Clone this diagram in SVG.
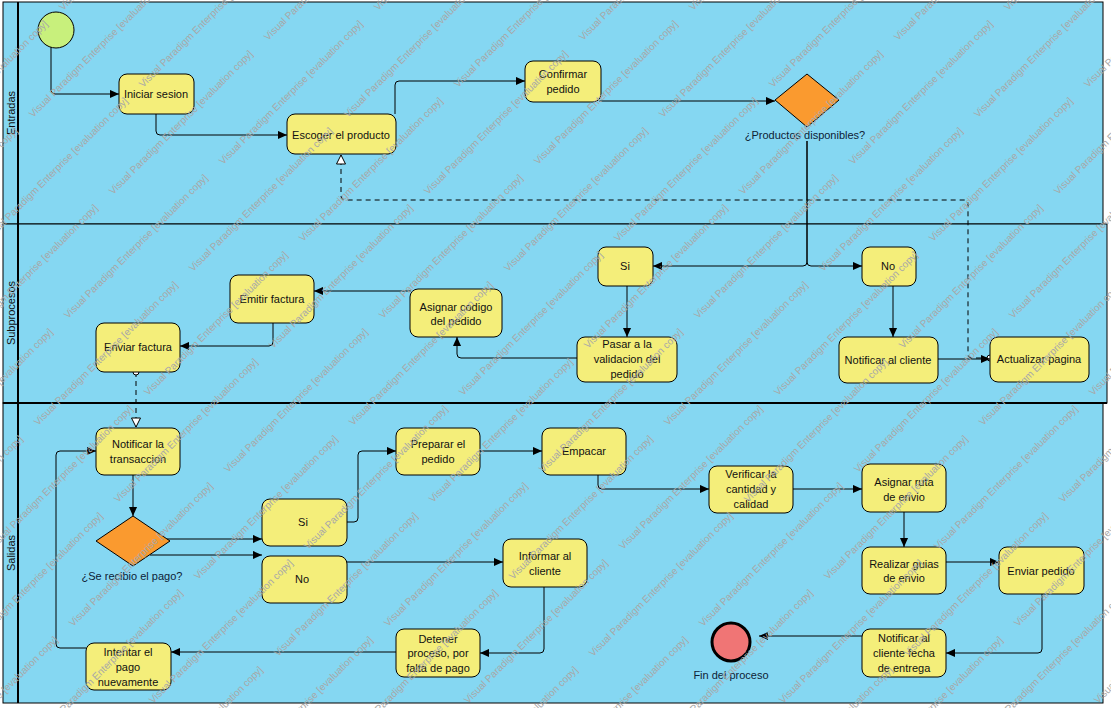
<svg xmlns="http://www.w3.org/2000/svg" xmlns:xlink="http://www.w3.org/1999/xlink" width="1111" height="708" viewBox="0 0 1111 708">
  <style>
    .lane { fill: #85d7f2; stroke: #000; stroke-width: 1; }
    .sep { fill: none; stroke: #000; stroke-width: 2; }
    .task { fill: #f4ee7a; stroke: #000; stroke-width: 1; }
    .gw { fill: #fa9a2f; stroke: #000; stroke-width: 1; }
    .t { font-family: "Liberation Sans", Arial, sans-serif; font-size: 11px; fill: #111; text-anchor: middle; }
    .lbl { font-family: "Liberation Sans", Arial, sans-serif; font-size: 11px; fill: #0d2236; text-anchor: middle; }
    .hdr { font-family: "Liberation Sans", Arial, sans-serif; font-size: 11px; fill: #111; text-anchor: middle; }
    .edge { fill: none; stroke: #000; stroke-width: 1; marker-end: url(#arr); }
    .msg { fill: none; stroke: #000; stroke-width: 1; stroke-dasharray: 5 4; marker-start: url(#dot); marker-end: url(#open); }
    .wm { font-family: "Liberation Sans", Arial, sans-serif; font-size: 10px; fill: #a8a8a8; }
  </style>
  <defs>
    <marker id="arr" viewBox="0 0 10 10" refX="10" refY="5" markerWidth="10" markerHeight="9" markerUnits="userSpaceOnUse" orient="auto">
      <path d="M0,0.5 L10,5 L0,9.5 z" fill="#000"/>
    </marker>
    <marker id="open" viewBox="-1 -1 11 11" refX="9" refY="4.5" markerWidth="11" markerHeight="11" markerUnits="userSpaceOnUse" orient="auto">
      <path d="M0,0 L9,4.5 L0,9 z" fill="#fff" stroke="#000" stroke-width="1"/>
    </marker>
    <marker id="dot" viewBox="-4 -4 8 8" refX="0" refY="0" markerWidth="8" markerHeight="8" markerUnits="userSpaceOnUse" orient="auto">
      <circle cx="0" cy="0" r="3" fill="#fff" stroke="#000" stroke-width="1"/>
    </marker>
    <text id="wm" class="wm" transform="rotate(-45)">Visual Paradigm Enterprise [evaluation copy]</text>
    <g id="wm-row">
      <use xlink:href="#wm" x="-1227" y="118"/>
      <use xlink:href="#wm" x="-912" y="118"/>
      <use xlink:href="#wm" x="-597" y="118"/>
      <use xlink:href="#wm" x="-282" y="118"/>
      <use xlink:href="#wm" x="33" y="118"/>
      <use xlink:href="#wm" x="348" y="118"/>
      <use xlink:href="#wm" x="663" y="118"/>
      <use xlink:href="#wm" x="978" y="118"/>
      <use xlink:href="#wm" x="1293" y="118"/>
      <use xlink:href="#wm" x="-1117" y="88"/>
      <use xlink:href="#wm" x="-802" y="88"/>
      <use xlink:href="#wm" x="-487" y="88"/>
      <use xlink:href="#wm" x="-172" y="88"/>
      <use xlink:href="#wm" x="143" y="88"/>
      <use xlink:href="#wm" x="458" y="88"/>
      <use xlink:href="#wm" x="773" y="88"/>
      <use xlink:href="#wm" x="1088" y="88"/>
      <use xlink:href="#wm" x="1403" y="88"/>
    </g>
  </defs>

  <rect x="0" y="0" width="1111" height="708" fill="#fff"/>

  <!-- pool and lanes -->
  <g id="lanes">
    <rect class="lane" x="3" y="2" width="1100" height="222"/>
    <rect class="lane" x="3" y="224" width="1104" height="179"/>
    <rect class="lane" x="3" y="403" width="1100" height="300"/>
    <line class="sep" x1="3" y1="403" x2="1107" y2="403"/>
    <line class="sep" x1="18" y1="2" x2="18" y2="703"/>
    <text class="hdr" transform="translate(15,113) rotate(-90)">Entradas</text>
    <text class="hdr" transform="translate(15,313) rotate(-90)">Subprocesos</text>
    <text class="hdr" transform="translate(15,553) rotate(-90)">Salidas</text>
  </g>

  <!-- connectors -->
  <g id="connectors">
    <path class="edge" d="M51,47 V90 Q51,94 55,94 H119"/>
    <path class="edge" d="M156,114 V131 Q156,135 160,135 H287"/>
    <path class="edge" d="M395,114 V85 Q395,81 399,81 H525"/>
    <path class="edge" d="M599,101 H775"/>
    <path class="edge" d="M807,141 V262 Q807,266 803,266 H653"/>
    <path class="edge" d="M807,141 V262 Q807,266 811,266 H862"/>
    <path class="msg" d="M990,358 H972 Q968,358 968,354 V204 Q968,200 964,200 H345 Q341,200 341,196 V155"/>

    <path class="edge" d="M627,286 V337"/>
    <path class="edge" d="M577,358 H461 Q457,358 457,354 V337"/>
    <path class="edge" d="M411,291 H314"/>
    <path class="edge" d="M273,323 V342 Q273,346 269,346 H180"/>
    <path class="msg" d="M136,372 V427"/>
    <path class="edge" d="M893,286 V337"/>
    <path class="edge" d="M938,359 H990"/>

    <path class="edge" d="M133,475 V516"/>
    <path class="edge" d="M167,539 H262"/>
    <path class="edge" d="M150,555 H262"/>
    <path class="edge" d="M347,522 H354 Q358,522 358,518 V455 Q358,451 362,451 H396"/>
    <path class="edge" d="M480,451 H542"/>
    <path class="edge" d="M598,475 V485 Q598,489 602,489 H709"/>
    <path class="edge" d="M793,489 H862"/>
    <path class="edge" d="M904,512 V547"/>
    <path class="edge" d="M946,562 H999"/>
    <path class="edge" d="M1042,594 V649 Q1042,653 1038,653 H946"/>
    <path class="edge" d="M862,636 H759"/>
    <path class="edge" d="M347,562 H503"/>
    <path class="edge" d="M544,587 V649 Q544,653 540,653 H480"/>
    <path class="edge" d="M396,652 H171"/>
    <path class="edge" d="M86,648 H60 Q56,648 56,644 V455 Q56,451 60,451 H96"/>
  </g>

  <!-- Entradas -->
  <g id="inicio">
    <circle cx="56" cy="30" r="18" fill="#c8f07c" stroke="#000" stroke-width="1"/>
  </g>
  <g id="iniciar-sesion">
    <rect class="task" x="119" y="74" width="75" height="40" rx="8"/>
    <text class="t" x="156" y="98">Iniciar sesion</text>
  </g>
  <g id="escoger-producto">
    <rect class="task" x="287" y="114" width="109" height="40" rx="8"/>
    <text class="t" x="341" y="139">Escoger el producto</text>
  </g>
  <g id="confirmar-pedido">
    <rect class="task" x="525" y="61" width="76" height="41" rx="8"/>
    <text class="t" x="563" y="78">Confirmar</text>
    <text class="t" x="563" y="93">pedido</text>
  </g>
  <g id="productos-disponibles">
    <path class="gw" d="M775,100 L807,74 L839,100 L807,127 z"/>
    <text class="lbl" x="805" y="139">¿Productos disponibles?</text>
  </g>

  <!-- Subprocesos -->
  <g id="emitir-factura">
    <rect class="task" x="230" y="275" width="84" height="48" rx="8"/>
    <text class="t" x="272" y="303">Emitir factura</text>
  </g>
  <g id="enviar-factura">
    <rect class="task" x="96" y="323" width="84" height="49" rx="8"/>
    <text class="t" x="138" y="351">Enviar factura</text>
  </g>
  <g id="asignar-codigo">
    <rect class="task" x="410" y="289" width="92" height="48" rx="8"/>
    <text class="t" x="456" y="311">Asignar codigo</text>
    <text class="t" x="456" y="325">del pedido</text>
  </g>
  <g id="si-disponible">
    <rect class="task" x="598" y="247" width="55" height="39" rx="8"/>
    <text class="t" x="625" y="270">Si</text>
  </g>
  <g id="pasar-validacion">
    <rect class="task" x="577" y="337" width="100" height="45" rx="8"/>
    <text class="t" x="627" y="348">Pasar a la</text>
    <text class="t" x="627" y="363">validacion del</text>
    <text class="t" x="627" y="378">pedido</text>
  </g>
  <g id="no-disponible">
    <rect class="task" x="862" y="247" width="54" height="39" rx="8"/>
    <text class="t" x="888" y="270">No</text>
  </g>
  <g id="notificar-cliente">
    <rect class="task" x="839" y="337" width="99" height="46" rx="8"/>
    <text class="t" x="888" y="364">Notificar al cliente</text>
  </g>
  <g id="actualizar-pagina">
    <rect class="task" x="990" y="337" width="99" height="45" rx="8"/>
    <text class="t" x="1039" y="363">Actualizar pagina</text>
  </g>

  <!-- Salidas -->
  <g id="notificar-transaccion">
    <rect class="task" x="96" y="428" width="84" height="47" rx="8"/>
    <text class="t" x="138" y="448">Notificar la</text>
    <text class="t" x="138" y="463">transaccion</text>
  </g>
  <g id="se-recibio-pago">
    <path class="gw" d="M96,541 L133,516 L170,541 L133,566 z"/>
    <text class="lbl" x="132" y="580">¿Se recibio el pago?</text>
  </g>
  <g id="si-pago">
    <rect class="task" x="262" y="499" width="85" height="47" rx="8"/>
    <text class="t" x="303" y="526">Si</text>
  </g>
  <g id="no-pago">
    <rect class="task" x="262" y="556" width="85" height="47" rx="8"/>
    <text class="t" x="302" y="583">No</text>
  </g>
  <g id="intentar-pago">
    <rect class="task" x="86" y="643" width="85" height="47" rx="8"/>
    <text class="t" x="128" y="656">Intentar el</text>
    <text class="t" x="128" y="671">pago</text>
    <text class="t" x="128" y="686">nuevamente</text>
  </g>
  <g id="preparar-pedido">
    <rect class="task" x="396" y="428" width="84" height="47" rx="8"/>
    <text class="t" x="438" y="448">Preparar el</text>
    <text class="t" x="438" y="463">pedido</text>
  </g>
  <g id="empacar">
    <rect class="task" x="542" y="428" width="84" height="47" rx="8"/>
    <text class="t" x="584" y="455">Empacar</text>
  </g>
  <g id="verificar-cantidad">
    <rect class="task" x="709" y="466" width="84" height="47" rx="8"/>
    <text class="t" x="751" y="478">Verificar la</text>
    <text class="t" x="751" y="493">cantidad y</text>
    <text class="t" x="751" y="508">calidad</text>
  </g>
  <g id="informar-cliente">
    <rect class="task" x="503" y="539" width="84" height="48" rx="8"/>
    <text class="t" x="545" y="560">Informar al</text>
    <text class="t" x="545" y="575">cliente</text>
  </g>
  <g id="detener-proceso">
    <rect class="task" x="396" y="629" width="84" height="48" rx="8"/>
    <text class="t" x="438" y="643">Detener</text>
    <text class="t" x="438" y="657">proceso, por</text>
    <text class="t" x="438" y="672">falta de pago</text>
  </g>
  <g id="fin-proceso">
    <circle cx="731" cy="642" r="19" fill="#f07575" stroke="#000" stroke-width="3"/>
    <text class="lbl" x="731" y="679">Fin del proceso</text>
  </g>
  <g id="asignar-ruta">
    <rect class="task" x="862" y="464" width="84" height="48" rx="8"/>
    <text class="t" x="904" y="486">Asignar ruta</text>
    <text class="t" x="904" y="501">de envio</text>
  </g>
  <g id="realizar-guias">
    <rect class="task" x="862" y="547" width="84" height="47" rx="8"/>
    <text class="t" x="904" y="568">Realizar guias</text>
    <text class="t" x="904" y="582">de envio</text>
  </g>
  <g id="enviar-pedido">
    <rect class="task" x="999" y="547" width="85" height="47" rx="8"/>
    <text class="t" x="1041" y="575">Enviar pedido</text>
  </g>
  <g id="notificar-entrega">
    <rect class="task" x="862" y="629" width="84" height="48" rx="8"/>
    <text class="t" x="904" y="642">Notificar al</text>
    <text class="t" x="904" y="657">cliente fecha</text>
    <text class="t" x="904" y="672">de entrega</text>
  </g>

  <!-- evaluation watermark, tiled over the whole sheet -->
  <g id="watermark">
    <use xlink:href="#wm-row" transform="translate(-80,-77)"/>
    <use xlink:href="#wm-row"/>
    <use xlink:href="#wm-row" transform="translate(80,77)"/>
    <use xlink:href="#wm-row" transform="translate(160,154)"/>
    <use xlink:href="#wm-row" transform="translate(240,231)"/>
    <use xlink:href="#wm-row" transform="translate(320,308)"/>
    <use xlink:href="#wm-row" transform="translate(400,385)"/>
    <use xlink:href="#wm-row" transform="translate(480,462)"/>
    <use xlink:href="#wm-row" transform="translate(560,539)"/>
    <use xlink:href="#wm-row" transform="translate(640,616)"/>
    <use xlink:href="#wm-row" transform="translate(720,693)"/>
  </g>
</svg>
